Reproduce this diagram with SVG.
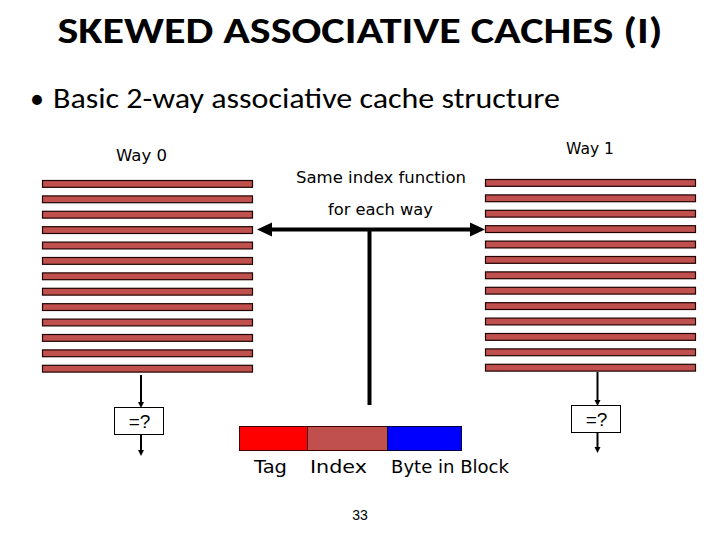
<svg xmlns="http://www.w3.org/2000/svg" width="720" height="540" viewBox="0 0 720 540">
<defs>
<style>
.bar{fill:#c0504d;stroke:#200000;stroke-width:1.2}
.comic{font-family:"Comic Sans MS","DejaVu Sans",sans-serif;fill:#000}
.title{font-family:Carlito,Calibri,"Open Sans",sans-serif;font-weight:bold;font-size:36px;fill:#000}
.body{font-family:Carlito,Calibri,"Open Sans",sans-serif;font-size:28px;fill:#000}
.arial{font-family:"Liberation Sans",Arial,sans-serif;fill:#000}
.cmp{fill:#fff;stroke:#000;stroke-width:1}
.ln{stroke:#000;fill:none}
</style>
<marker id="big" viewBox="0 0 10 10" refX="9" refY="5" markerWidth="4" markerHeight="3.4" orient="auto-start-reverse" markerUnits="strokeWidth">
<path d="M0,0 L10,5 L0,10 Z" fill="#000"/>
</marker>
<marker id="small" viewBox="0 0 10 10" refX="9" refY="5" markerWidth="3" markerHeight="3" orient="auto" markerUnits="strokeWidth">
<path d="M0,1 L10,5 L0,9 Z" fill="#000"/>
</marker>
</defs>
<rect width="720" height="540" fill="#fff"/>
<text class="title" x="360" y="43" text-anchor="middle" textLength="605" lengthAdjust="spacingAndGlyphs">SKEWED ASSOCIATIVE CACHES (I)</text>
<text class="body" x="30" y="108">•</text>
<text class="body" x="53" y="108" textLength="507" lengthAdjust="spacingAndGlyphs">Basic 2-way associative cache structure</text>

<g id="way0">
<text class="comic" x="116" y="161" font-size="16" textLength="51" lengthAdjust="spacingAndGlyphs">Way 0</text>
<rect class="bar" x="42.5" y="180.5" width="210" height="6.8"/>
<rect class="bar" x="42.5" y="195.9" width="210" height="6.8"/>
<rect class="bar" x="42.5" y="211.3" width="210" height="6.8"/>
<rect class="bar" x="42.5" y="226.7" width="210" height="6.8"/>
<rect class="bar" x="42.5" y="242.1" width="210" height="6.8"/>
<rect class="bar" x="42.5" y="257.5" width="210" height="6.8"/>
<rect class="bar" x="42.5" y="272.9" width="210" height="6.8"/>
<rect class="bar" x="42.5" y="288.3" width="210" height="6.8"/>
<rect class="bar" x="42.5" y="303.7" width="210" height="6.8"/>
<rect class="bar" x="42.5" y="319.1" width="210" height="6.8"/>
<rect class="bar" x="42.5" y="334.5" width="210" height="6.8"/>
<rect class="bar" x="42.5" y="349.9" width="210" height="6.8"/>
<rect class="bar" x="42.5" y="365.3" width="210" height="6.8"/>
</g>

<g id="way1">
<text class="comic" x="566" y="154" font-size="16" textLength="48" lengthAdjust="spacingAndGlyphs">Way 1</text>
<rect class="bar" x="485.5" y="179.5" width="210" height="6.8"/>
<rect class="bar" x="485.5" y="194.9" width="210" height="6.8"/>
<rect class="bar" x="485.5" y="210.3" width="210" height="6.8"/>
<rect class="bar" x="485.5" y="225.7" width="210" height="6.8"/>
<rect class="bar" x="485.5" y="241.1" width="210" height="6.8"/>
<rect class="bar" x="485.5" y="256.5" width="210" height="6.8"/>
<rect class="bar" x="485.5" y="271.9" width="210" height="6.8"/>
<rect class="bar" x="485.5" y="287.3" width="210" height="6.8"/>
<rect class="bar" x="485.5" y="302.7" width="210" height="6.8"/>
<rect class="bar" x="485.5" y="318.1" width="210" height="6.8"/>
<rect class="bar" x="485.5" y="333.5" width="210" height="6.8"/>
<rect class="bar" x="485.5" y="348.9" width="210" height="6.8"/>
<rect class="bar" x="485.5" y="364.3" width="210" height="6.8"/>
</g>

<g id="index-label">
<text class="comic" x="296" y="183" font-size="16" textLength="170" lengthAdjust="spacingAndGlyphs">Same index function</text>
<text class="comic" x="328" y="215" font-size="16" textLength="105" lengthAdjust="spacingAndGlyphs">for each way</text>
</g>

<g id="cmp0">
<rect class="cmp" x="114.5" y="407.5" width="49" height="27"/>
<text class="arial" x="139.5" y="428" font-size="19" text-anchor="middle">=?</text>
</g>
<g id="cmp1">
<rect class="cmp" x="571.5" y="405.5" width="49" height="27"/>
<text class="arial" x="596.5" y="426" font-size="19" text-anchor="middle">=?</text>
</g>

<g id="address">
<rect x="239.5" y="426.5" width="68" height="24" fill="#ff0000" stroke="#400000" stroke-width="1"/>
<rect x="307.5" y="426.5" width="80" height="24" fill="#c0504d" stroke="#400000" stroke-width="1"/>
<rect x="387.5" y="426.5" width="74" height="24" fill="#0000ff" stroke="#000040" stroke-width="1"/>
<text class="comic" x="254" y="473" font-size="18" textLength="33" lengthAdjust="spacingAndGlyphs">Tag</text>
<text class="comic" x="310" y="473" font-size="18" textLength="57" lengthAdjust="spacingAndGlyphs">Index</text>
<text class="comic" x="391" y="473" font-size="18" textLength="118" lengthAdjust="spacingAndGlyphs">Byte in Block</text>
</g>

<g id="connectors">
<line class="ln" x1="266" y1="229.5" x2="476" y2="229.5" stroke-width="4"/>
<path d="M257,229.5 L272,222.5 L272,236.5 Z" fill="#000"/>
<path d="M485,229.5 L470,222.5 L470,236.5 Z" fill="#000"/>
<line class="ln" x1="369.5" y1="229.5" x2="369.5" y2="405" stroke-width="4"/>
<line class="ln" x1="141" y1="375" x2="141" y2="404" stroke-width="2"/>
<path d="M141,408 L138,402 L144,402 Z" fill="#000"/>
<line class="ln" x1="141" y1="434" x2="141" y2="452" stroke-width="2"/>
<path d="M141,456 L138,450 L144,450 Z" fill="#000"/>
<line class="ln" x1="597.5" y1="372" x2="597.5" y2="402" stroke-width="2"/>
<path d="M597.5,406 L594.5,400 L600.5,400 Z" fill="#000"/>
<line class="ln" x1="597.5" y1="432" x2="597.5" y2="449" stroke-width="2"/>
<path d="M597.5,453 L594.5,447 L600.5,447 Z" fill="#000"/>
</g>

<text class="arial" x="360" y="520" font-size="14" text-anchor="middle">33</text>
</svg>
